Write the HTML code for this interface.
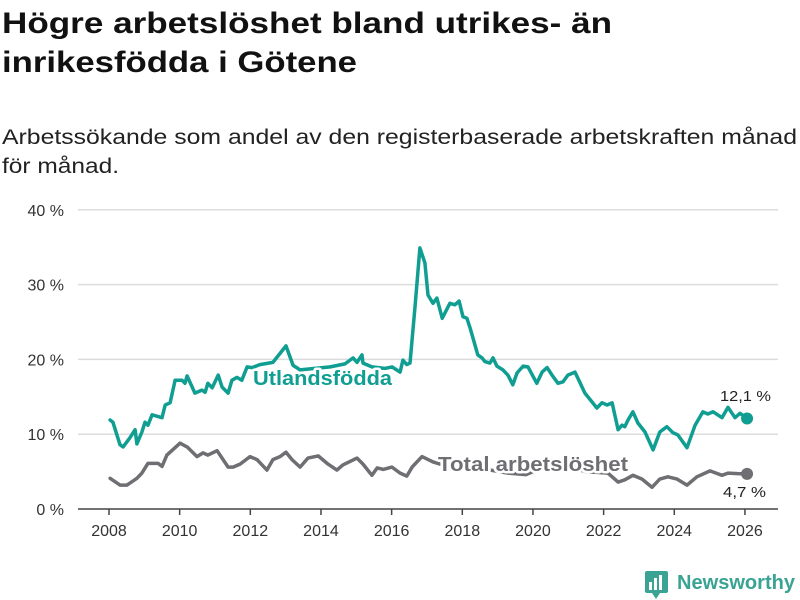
<!DOCTYPE html>
<html><head><meta charset="utf-8"><style>
html,body{margin:0;padding:0;background:#fff;}
svg{display:block;font-family:"Liberation Sans",sans-serif;}
</style></head><body>
<svg id="chart" width="800" height="600" viewBox="0 0 800 600">
<text x="2" y="33" font-size="30" font-weight="bold" fill="#111" textLength="610" lengthAdjust="spacingAndGlyphs">Högre arbetslöshet bland utrikes- än</text>
<text x="2" y="72" font-size="30" font-weight="bold" fill="#111" textLength="355" lengthAdjust="spacingAndGlyphs">inrikesfödda i Götene</text>
<text x="2" y="144" font-size="21" fill="#222" textLength="795" lengthAdjust="spacingAndGlyphs">Arbetssökande som andel av den registerbaserade arbetskraften månad</text>
<text x="2" y="173" font-size="21" fill="#222" textLength="117" lengthAdjust="spacingAndGlyphs">för månad.</text>
<g id="grid"></g><g id="lines"></g><g id="labels"></g>
<g>
<rect x="645" y="571" width="23" height="22" rx="2" fill="#3aa393"/>
<rect x="649" y="582" width="3" height="8" fill="#fff"/><rect x="654" y="578" width="3" height="12" fill="#fff"/><rect x="659" y="575" width="3" height="15" fill="#fff"/>
<polygon points="652,593 660,593 656,599" fill="#3aa393"/>
<text x="677" y="589" font-size="20" font-weight="bold" fill="#3aa393" textLength="118" lengthAdjust="spacingAndGlyphs">Newsworthy</text>
</g>
</svg>
<script>
const yTicks=[0,10,20,30,40];
const xTicks=[2008,2010,2012,2014,2016,2018,2020,2022,2024,2026];
const utlYears=[2008.03,2008.11,2008.31,2008.40,2008.59,2008.74,2008.79,2008.93,2009.02,2009.10,2009.22,2009.50,2009.59,2009.73,2009.87,2010.07,2010.15,2010.21,2010.43,2010.63,2010.72,2010.80,2010.92,2011.09,2011.20,2011.37,2011.48,2011.62,2011.76,2011.91,2012.05,2012.27,2012.64,2013.01,2013.21,2013.41,2013.83,2014.26,2014.68,2014.91,2015.02,2015.16,2015.19,2015.44,2015.81,2016.01,2016.24,2016.32,2016.43,2016.52,2016.66,2016.80,2016.94,2017.03,2017.17,2017.28,2017.43,2017.65,2017.79,2017.91,2018.02,2018.13,2018.22,2018.44,2018.56,2018.64,2018.78,2018.87,2018.98,2019.15,2019.29,2019.43,2019.55,2019.72,2019.86,2020.11,2020.26,2020.40,2020.54,2020.71,2020.85,2020.99,2021.19,2021.47,2021.81,2021.95,2022.10,2022.24,2022.41,2022.52,2022.60,2022.69,2022.83,2022.97,2023.17,2023.40,2023.59,2023.79,2023.96,2024.10,2024.36,2024.59,2024.81,2024.95,2025.10,2025.35,2025.52,2025.72,2025.86,2026.06];
const utlValues=[11.9,11.6,8.6,8.3,9.5,10.6,8.7,10.3,11.6,11.2,12.6,12.2,13.9,14.2,17.2,17.2,16.8,17.8,15.5,15.9,15.6,16.8,16.2,17.9,16.3,15.5,17.2,17.6,17.2,19.0,18.9,19.3,19.6,21.8,19.2,18.6,18.8,19.0,19.4,20.2,19.6,20.6,19.5,19.0,18.8,19.0,18.3,19.9,19.3,19.5,27.0,34.9,32.9,28.6,27.5,28.2,25.5,27.5,27.3,27.8,25.7,25.5,24.2,20.6,20.2,19.7,19.5,20.2,19.1,18.6,17.9,16.6,18.2,19.1,19.0,16.8,18.3,18.9,17.9,16.8,17.0,17.9,18.3,15.5,13.5,14.2,13.9,14.2,10.6,11.2,11.0,11.9,13.0,11.5,10.3,7.9,10.3,11.0,10.2,9.9,8.2,11.2,13.0,12.7,13.0,12.2,13.6,12.2,12.8,12.1];
const totYears=[2008.03,2008.31,2008.51,2008.79,2008.93,2009.10,2009.39,2009.50,2009.64,2010.01,2010.21,2010.49,2010.66,2010.80,2011.06,2011.37,2011.51,2011.71,2011.99,2012.19,2012.47,2012.64,2012.84,2013.01,2013.18,2013.41,2013.63,2013.92,2014.20,2014.45,2014.62,2015.02,2015.19,2015.44,2015.59,2015.76,2016.01,2016.24,2016.43,2016.58,2016.86,2017.17,2017.37,2017.8,2018.3,2018.8,2019.3,2019.8,2020.3,2020.6,2021.0,2021.5,2022.12,2022.41,2022.60,2022.83,2023.09,2023.37,2023.59,2023.82,2024.08,2024.36,2024.64,2025.01,2025.35,2025.52,2025.86,2026.06];
const totValues=[4.1,3.2,3.2,4.1,4.8,6.1,6.1,5.7,7.2,8.8,8.3,7.0,7.5,7.2,7.8,5.6,5.6,6.0,7.0,6.6,5.2,6.6,7.0,7.6,6.6,5.6,6.8,7.1,6.0,5.2,5.9,6.8,6.0,4.5,5.5,5.3,5.6,4.8,4.4,5.6,7.0,6.3,6.0,5.8,5.4,5.2,4.8,4.6,5.6,6.0,5.6,5.0,4.8,3.6,3.9,4.5,4.0,2.9,4.0,4.3,4.0,3.2,4.3,5.1,4.5,4.8,4.7,4.7];
const NS='http://www.w3.org/2000/svg';
const xS=y=>109+(y-2008)*35.33;
const yS=v=>509-v*7.48;
function mk(t,a,p){const e=document.createElementNS(NS,t);for(const k in a)e.setAttribute(k,a[k]);p.appendChild(e);return e;}
const grid=document.getElementById('grid'),lines=document.getElementById('lines'),labels=document.getElementById('labels');
yTicks.forEach(v=>{
 if(v>0){const g=mk('line',{x1:78,x2:778,y1:yS(v),y2:yS(v),stroke:'#dcdcdc','stroke-width':1.5},grid);
 
 }
 const t=mk('text',{x:64,y:yS(v)+6,'text-anchor':'end','font-size':16,fill:'#333'},grid);t.textContent=v+' %';
 
 
});
const ax=mk('line',{x1:78,x2:778,y1:509,y2:509,stroke:'#444','stroke-width':1.5},grid);


xTicks.forEach(y=>{
 mk('line',{x1:xS(y),x2:xS(y),y1:509,y2:515,stroke:'#444','stroke-width':1.5},grid);
 const t=mk('text',{x:xS(y),y:536,'text-anchor':'middle','font-size':16,fill:'#333'},grid);t.textContent=y;
 
 
});
function line(ys,vs,col,name){
 const d=ys.map((y,i)=>(i?'L':'M')+xS(y).toFixed(1)+','+yS(vs[i]).toFixed(1)).join('');
 const p=mk('path',{d:d,fill:'none',stroke:col,'stroke-width':3.5,'stroke-linejoin':'round','stroke-linecap':'round'},lines);
 
 
 const n=ys.length-1;
 const c=mk('circle',{cx:xS(ys[n]),cy:yS(vs[n]),r:6,fill:col},lines);
 
 
}
line(totYears,totValues,'#6e6e73','total');
line(utlYears,utlValues,'#0f9e91','utlandsfodda');
function lab(x,y,txt,col,size,w,name,bold){
 const t=mk('text',{x:x,y:y,'font-size':size,fill:col,'font-weight':bold?'bold':'normal',stroke:'#fff','stroke-width':bold?5:0,'paint-order':'stroke','stroke-linejoin':'round',textLength:w,lengthAdjust:'spacingAndGlyphs'},labels);
 t.textContent=txt;
 
 
}
lab(253,385,'Utlandsfödda','#0f9e91',20,139,'utlandsfodda-label',true);
lab(438,471,'Total arbetslöshet','#6e6e73',20,190,'total-label',true);
lab(720,401,'12,1 %','#222',15,51,'utlandsfodda-end-value',false);
lab(723,497,'4,7 %','#222',15,43,'total-end-value',false);
</script>
</body></html>
